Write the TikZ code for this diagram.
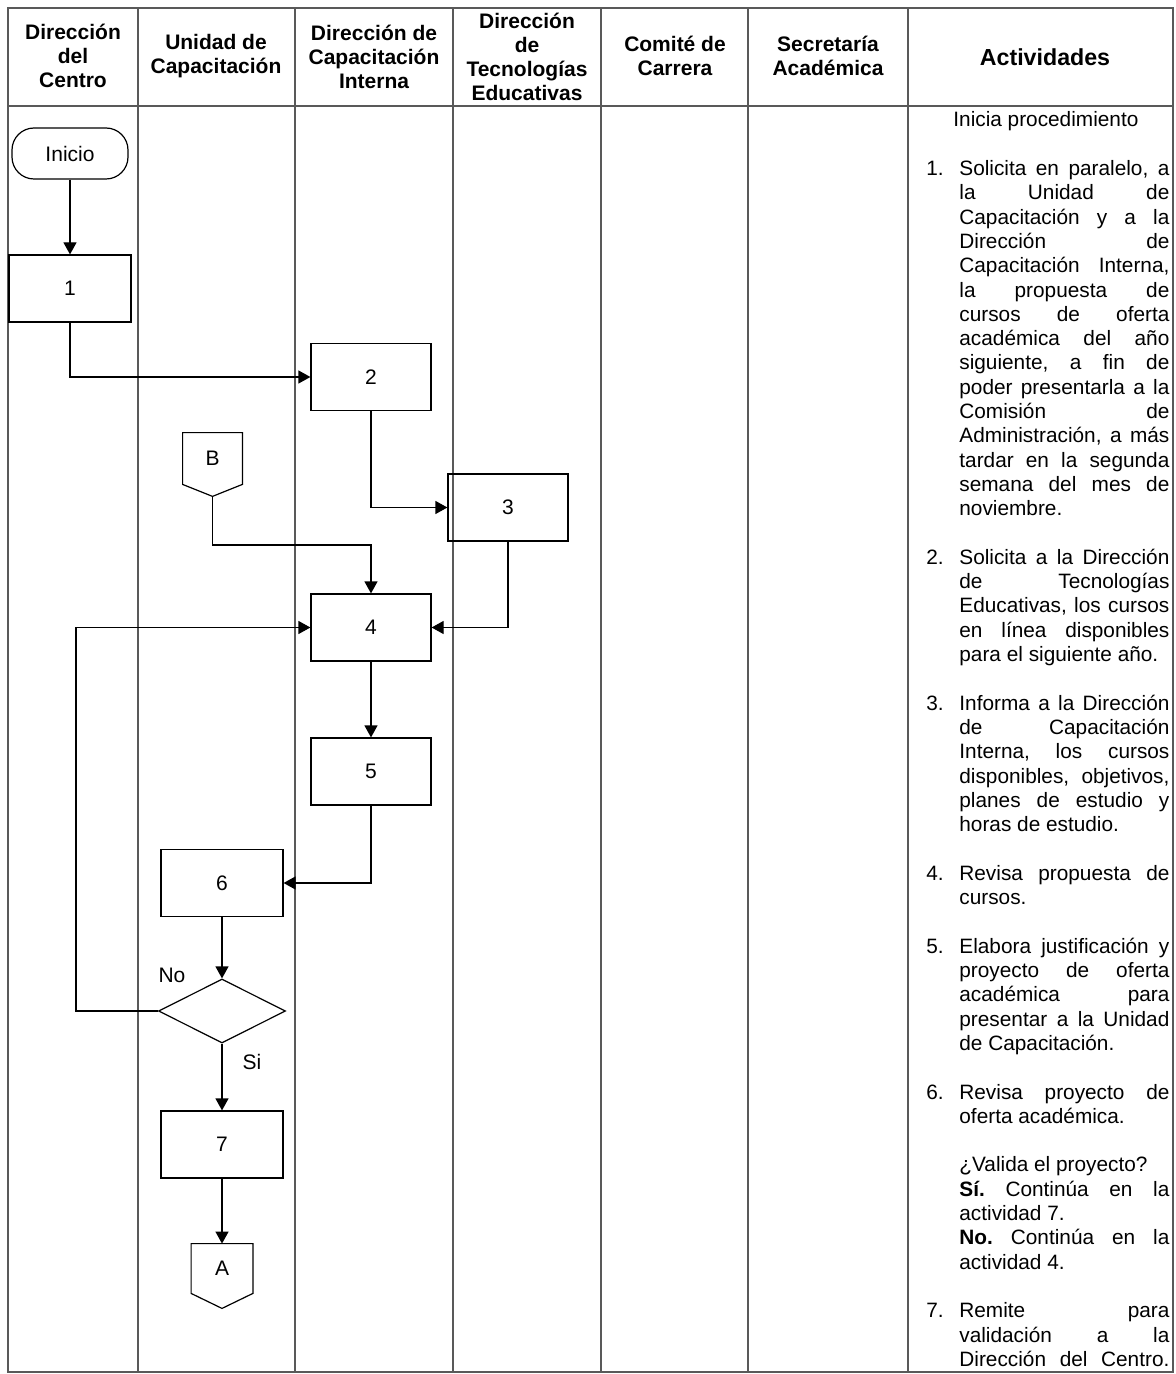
\documentclass[tikz,border=0pt]{standalone}
\usepackage{fontspec}
\setmainfont{Liberation Sans}
\usetikzlibrary{arrows.meta,shapes.geometric,calc}
\frenchspacing

\newcommand\JL[1]{\hbox to 105pt{#1}}
\newcommand\LL[1]{\hbox to 105pt{#1\hfil}}
\newcommand\NJ[2]{\hbox{\hbox to 16.5pt{#1\hfil}\JL{#2}}}
\newcommand\CJ[1]{\hbox{\hskip16.5pt\JL{#1}}}
\newcommand\CL[1]{\hbox{\hskip16.5pt\LL{#1}}}
\newcommand\PG{\vskip12.15pt}

\tikzset{
  tbl/.style={draw=black!65, line width=0.7pt},
  proc/.style={draw, line width=0.6pt, minimum width=60pt, minimum height=33.5pt, inner sep=0pt, font=\fontsize{10.5}{12}\selectfont},
  conn/.style={inner sep=0pt, minimum width=29.5pt, font=\fontsize{10.5}{12}\selectfont},
  arr/.style={draw, line width=0.6pt, -{Triangle[length=6pt,width=6.5pt]}},
  hdr/.style={align=center, font=\bfseries\fontsize{10.5}{12}\selectfont, inner sep=0pt},
  lbl/.style={inner sep=0pt, font=\fontsize{10.5}{12}\selectfont},
}

\begin{document}
\begin{tikzpicture}[x=0.5pt,y=-0.5pt]
\useasboundingbox (0,0) rectangle (1175,1374);

% table
\draw[tbl] (8,8) rectangle (1173,1372);
\draw[tbl] (8,106) -- (1173,106);
\foreach \x in {138,295,453,601,748,908} \draw[tbl] (\x,8) -- (\x,1372);

% headers
\node[hdr] (h1) at (73,56) {Dirección\\del\\Centro};
\node[hdr] (h2) at (216,56) {Unidad de\\Capacitación};
\node[hdr] (h3) at (374,57) {Dirección de\\Capacitación\\Interna};
\node[hdr] (h4) at (527,56.5) {Dirección\\de\\Tecnologías\\Educativas};
\node[hdr] (h5) at (675,56) {Comité de\\Carrera};
\node[hdr] (h6) at (828,56) {Secretaría\\Académica};
\node[hdr, font=\bfseries\fontsize{11.6}{13}\selectfont] (h7) at (1045,57) {Actividades};

% flow nodes
\node[proc, rounded corners=11pt, minimum width=58pt, minimum height=25.5pt] (ini) at (70,153.5) {Inicio};
\node[proc, minimum width=61pt] (b1) at (70,288.5) {1};
\node[proc] (b2) at (371,377) {2};
\node[proc] (b3) at (508,507.5) {3};
\node[proc] (b4) at (371,627.5) {4};
\node[proc] (b5) at (371,771.5) {5};
\node[proc, minimum width=61pt] (b6) at (222,883) {6};
\node[diamond, draw, line width=0.6pt, inner sep=0pt, minimum width=63.5pt, minimum height=32pt] (d) at (222,1011) {};
\node[proc, minimum width=61pt] (b7) at (222,1144.5) {7};

% off-page connectors
\node[conn, minimum height=25.5pt] (B) at (212.5,458.5) {B};
\draw[line width=0.6pt] (B.north west) -- (B.north east) -- (B.south east) -- ($(B.south)+(0,-6pt)$) -- (B.south west) -- cycle;
\coordinate (Bp) at ($(B.south)+(0,-6pt)$);

\node[conn, minimum width=30.5pt, minimum height=24.5pt] (A) at (222,1268.5) {A};
\draw[line width=0.6pt] (A.north west) -- (A.north east) -- (A.south east) -- ($(A.south)+(0,-7.5pt)$) -- (A.south west) -- cycle;

% connectors
\coordinate (j1) at (371,545);
\coordinate (lp) at (76,627.5);
\draw[arr] (ini.south) -- (ini.south |- b1.north);
\draw[arr] (b1.south) |- (b2.west);
\draw[arr] (b2.south) |- (b3.west);
\draw[arr] (Bp) |- (j1) -- (b4.north);
\draw[arr] (b3.south) |- (b4.east);
\draw[arr] (d.west) -| (lp) -- (b4.west);
\draw[arr] (b4) -- (b5);
\draw[arr] (b5.south) |- (b6.east);
\draw[arr] (b6) -- (d);
\draw[arr] (d) -- (b7);
\draw[arr] (b7) -- (A.north);

\node[lbl] (no) at (172,975) {No};
\node[lbl] (si) at (252,1062) {Si};

% activities
\node[anchor=base west, inner sep=0pt, font=\fontsize{10.4}{12.15}\selectfont] (act) at (926,127) {\vtop{\baselineskip=12.15pt\lineskiplimit=-20pt
\hbox{\hskip13.5pt Inicia procedimiento}
\PG
\NJ{1.}{Solicita en paralelo, a}
\CJ{la Unidad de}
\CJ{Capacitación y a la}
\CJ{Dirección de}
\CJ{Capacitación Interna,}
\CJ{la propuesta de}
\CJ{cursos de oferta}
\CJ{académica del año}
\CJ{siguiente, a fin de}
\CJ{poder presentarla a la}
\CJ{Comisión de}
\CJ{Administración, a más}
\CJ{tardar en la segunda}
\CJ{semana del mes de}
\CL{noviembre.}
\PG
\NJ{2.}{Solicita a la Dirección}
\CJ{de Tecnologías}
\CJ{Educativas, los cursos}
\CJ{en línea disponibles}
\CL{para el siguiente año.}
\PG
\NJ{3.}{Informa a la Dirección}
\CJ{de Capacitación}
\CJ{Interna, los cursos}
\CJ{disponibles, objetivos,}
\CJ{planes de estudio y}
\CL{horas de estudio.}
\PG
\NJ{4.}{Revisa propuesta de}
\CL{cursos.}
\PG
\NJ{5.}{Elabora justificación y}
\CJ{proyecto de oferta}
\CJ{académica para}
\CJ{presentar a la Unidad}
\CL{de Capacitación.}
\PG
\NJ{6.}{Revisa proyecto de}
\CL{oferta académica.}
\PG
\CL{¿Valida el proyecto?}
\CJ{\textbf{Sí.} Continúa en la}
\CL{actividad 7.}
\CJ{\textbf{No.} Continúa en la}
\CL{actividad 4.}
\PG
\NJ{7.}{Remite para}
\CJ{validación a la}
\CJ{Dirección del Centro.}
}};
\end{tikzpicture}
\end{document}
